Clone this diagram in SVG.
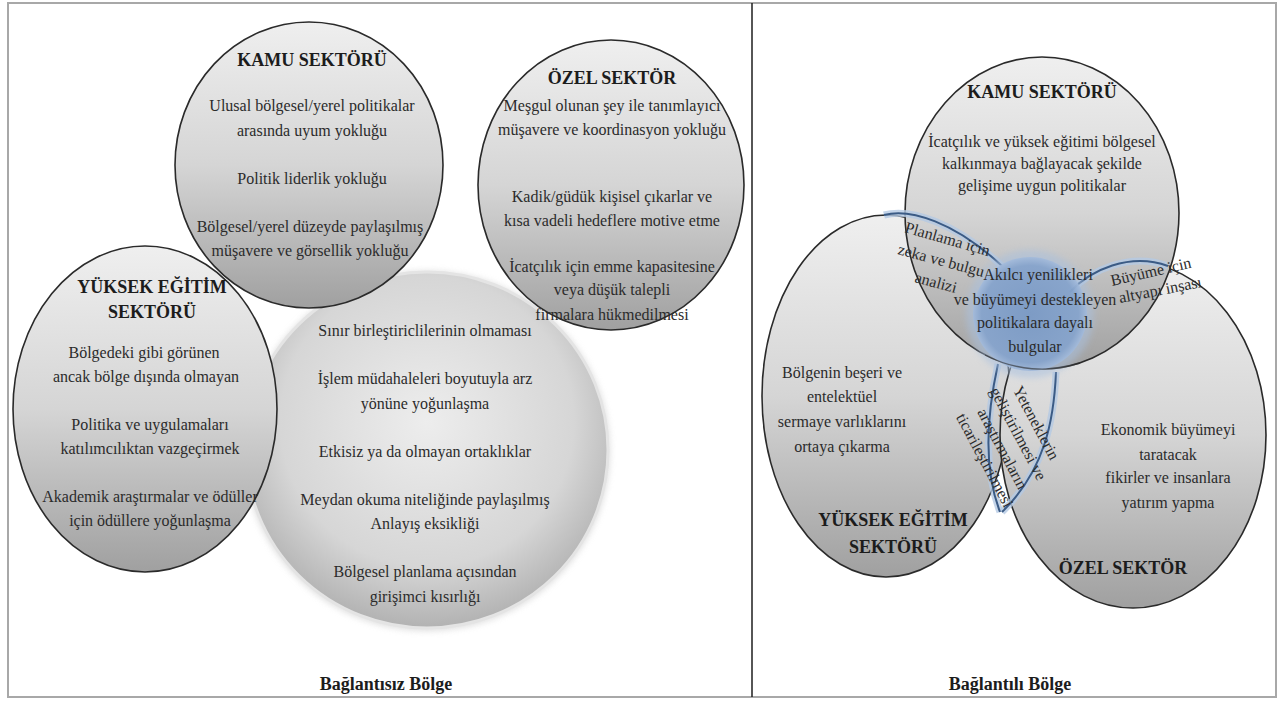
<svg xmlns="http://www.w3.org/2000/svg" width="1283" height="701" viewBox="0 0 1283 701" font-family="Liberation Serif, DejaVu Serif, serif">
<defs>
  <linearGradient id="gEll" x1="0" y1="0" x2="0" y2="1">
    <stop offset="0" stop-color="#efefef"/>
    <stop offset="0.5" stop-color="#d5d5d5"/>
    <stop offset="1" stop-color="#a0a0a0"/>
  </linearGradient>
  <radialGradient id="gBig" cx="0.5" cy="0.42" r="0.58">
    <stop offset="0" stop-color="#ededed"/>
    <stop offset="0.7" stop-color="#d6d6d6"/>
    <stop offset="1" stop-color="#b2b2b2"/>
  </radialGradient>
  <radialGradient id="gBlue" cx="0.5" cy="0.5" r="0.5">
    <stop offset="0" stop-color="#7898c4"/>
    <stop offset="0.85" stop-color="#84a2cb"/>
    <stop offset="1" stop-color="#a2badb"/>
  </radialGradient>
  <filter id="soft" x="-20%" y="-20%" width="140%" height="140%"><feGaussianBlur stdDeviation="3"/></filter>
</defs>
<style>
  text{font-family:'Liberation Serif','DejaVu Serif',serif}
  .ell{fill:url(#gEll);stroke:#2a2a2a;stroke-width:1.6}
  .t{font-size:16px;fill:#2b2b2b;text-anchor:middle}
  .h{font-size:18px;font-weight:bold;fill:#1c1c1c;text-anchor:middle}
  .r{font-size:16px;fill:#2b2b2b}
  .rc{font-size:16px;fill:#2b2b2b;text-anchor:middle}
  .bl{fill:none;stroke:#3b5b85;stroke-width:2}
  .halo{fill:none;stroke:#b4c9e3;stroke-width:7;opacity:0.8}
</style>

<rect x="0" y="0" width="1283" height="701" fill="#ffffff"/>
<g id="frame">
  <rect x="8" y="3" width="1268" height="694" fill="none" stroke="#a8a8a8" stroke-width="2"/>
  <line x1="752" y1="3" x2="752" y2="697" stroke="#1e1e1e" stroke-width="1.5"/>
</g>

<!-- LEFT PANEL -->
<g id="left-center-circle">
  <ellipse cx="427" cy="451" rx="183" ry="180" fill="#d0d0d0" filter="url(#soft)" opacity="0.7"/>
  <ellipse cx="427" cy="450" rx="181" ry="178" fill="url(#gBig)" stroke="#e4e4e4" stroke-width="3"/>
  <text class="t" x="425" y="336">Sınır birleştiriclilerinin olmaması</text>
  <text class="t" x="425" y="384">İşlem müdahaleleri boyutuyla arz</text>
  <text class="t" x="425" y="409">yönüne yoğunlaşma</text>
  <text class="t" x="425" y="457">Etkisiz ya da olmayan ortaklıklar</text>
  <text class="t" x="425" y="505">Meydan okuma niteliğinde paylaşılmış</text>
  <text class="t" x="425" y="529">Anlayış eksikliği</text>
  <text class="t" x="425" y="577">Bölgesel planlama açısından</text>
  <text class="t" x="425" y="602">girişimci kısırlığı</text>
</g>

<g id="left-yuksek">
  <ellipse class="ell" cx="145" cy="409" rx="132" ry="163"/>
  <text class="h" x="152" y="293">YÜKSEK EĞİTİM</text>
  <text class="h" x="152" y="318">SEKTÖRÜ</text>
  <text class="t" x="144" y="358">Bölgedeki gibi görünen</text>
  <text class="t" x="146" y="382">ancak bölge dışında olmayan</text>
  <text class="t" x="150" y="430">Politika ve uygulamaları</text>
  <text class="t" x="150" y="454">katılımcılıktan vazgeçirmek</text>
  <text class="t" x="150" y="502">Akademik araştırmalar ve ödüller</text>
  <text class="t" x="150" y="526">için ödüllere yoğunlaşma</text>
</g>

<g id="left-kamu">
  <ellipse class="ell" cx="309" cy="165" rx="134" ry="143"/>
  <text class="h" x="312" y="66">KAMU SEKTÖRÜ</text>
  <text class="t" x="312" y="111">Ulusal bölgesel/yerel politikalar</text>
  <text class="t" x="312" y="136">arasında uyum yokluğu</text>
  <text class="t" x="312" y="184">Politik liderlik yokluğu</text>
  <text class="t" x="310" y="232">Bölgesel/yerel düzeyde paylaşılmış</text>
  <text class="t" x="310" y="256">müşavere ve görsellik yokluğu</text>
</g>

<g id="left-ozel">
  <ellipse class="ell" cx="611" cy="185" rx="133" ry="145"/>
  <text class="h" x="612" y="84">ÖZEL SEKTÖR</text>
  <text class="t" x="612" y="111">Meşgul olunan şey ile tanımlayıcı</text>
  <text class="t" x="612" y="135">müşavere ve koordinasyon yokluğu</text>
  <text class="t" x="612" y="202">Kadik/güdük kişisel çıkarlar ve</text>
  <text class="t" x="612" y="226">kısa vadeli hedeflere motive etme</text>
  <text class="t" x="612" y="272">İcatçılık için emme kapasitesine</text>
  <text class="t" x="612" y="295">veya düşük talepli</text>
  <text class="t" x="612" y="320">firmalara hükmedilmesi</text>
</g>

<g id="left-label">
  <text class="h" x="386" y="690">Bağlantısız Bölge</text>
</g>

<!-- RIGHT PANEL -->
<g id="right-yuksek">
  <ellipse class="ell" cx="886" cy="396" rx="124" ry="181"/>
  <text class="t" x="842" y="378">Bölgenin beşeri ve</text>
  <text class="t" x="842" y="402">entelektüel</text>
  <text class="t" x="842" y="427">sermaye varlıklarını</text>
  <text class="t" x="842" y="452">ortaya çıkarma</text>
  <text class="h" x="893" y="526">YÜKSEK EĞİTİM</text>
  <text class="h" x="893" y="553">SEKTÖRÜ</text>
</g>

<g id="right-ozel">
  <ellipse class="ell" cx="1133" cy="435" rx="133" ry="173"/>
  <text class="t" x="1168" y="435">Ekonomik büyümeyi</text>
  <text class="t" x="1168" y="460">taratacak</text>
  <text class="t" x="1168" y="483">fikirler ve insanlara</text>
  <text class="t" x="1168" y="508">yatırım yapma</text>
  <text class="h" x="1123" y="574">ÖZEL SEKTÖR</text>
</g>

<g id="right-kamu">
  <ellipse class="ell" cx="1042" cy="213" rx="137" ry="156"/>
  <text class="h" x="1042" y="98">KAMU SEKTÖRÜ</text>
  <text class="t" x="1042" y="147">İcatçılık ve yüksek eğitimi bölgesel</text>
  <text class="t" x="1042" y="169">kalkınmaya bağlayacak şekilde</text>
  <text class="t" x="1042" y="191">gelişime uygun politikalar</text>
</g>

<g id="connectors">
  <path class="halo" d="M884,215 C910,208 955,222 1002,266"/>
  <path class="halo" d="M1070,292 C1090,270 1130,252 1168,266"/>
  <path class="halo" d="M998,364 C990,400 980,460 1000,512"/>
  <path class="halo" d="M1056,372 C1054,420 1045,470 1002,512"/>
  <path class="bl" d="M884,215 C910,208 955,222 1002,266"/>
  <path class="bl" d="M1070,292 C1090,270 1130,252 1168,266"/>
  <path class="bl" d="M998,364 C990,400 980,460 1000,512"/>
  <path class="bl" d="M1056,372 C1054,420 1045,470 1002,512"/>
</g>

<g id="right-center">
  <circle cx="1030" cy="314" r="64" fill="#a9c0de" opacity="0.55" filter="url(#soft)"/>
  <circle cx="1030" cy="314" r="57" fill="url(#gBlue)" opacity="0.9"/>
  <path d="M985,355 A137,156 0 0 0 1080,363" fill="none" stroke="#2a2a2a" stroke-width="1.4" opacity="0.6"/>
  <text class="t" x="1038" y="280">Akılcı yenilikleri</text>
  <text class="t" x="1035" y="305">ve büyümeyi destekleyen</text>
  <text class="t" x="1035" y="328">politikalara dayalı</text>
  <text class="t" x="1035" y="352">bulgular</text>
</g>

<g id="right-labels">
  <text class="r" transform="translate(904,232) rotate(16)">Planlama için</text>
  <text class="r" transform="translate(897,254) rotate(15)">zeka ve bulgu</text>
  <text class="r" transform="translate(914,282) rotate(15)">analizi</text>
  <text class="r" transform="translate(1112,286) rotate(-13)">Büyüme için</text>
  <text class="r" transform="translate(1120,303) rotate(-11)">altyapı inşası</text>
  <g transform="translate(1036,423) rotate(62)">
    <text class="rc" x="0" y="5">Yeteneklerin</text>
    <text class="rc" x="1" y="26">geliştirilmesi ve</text>
    <text class="rc" x="7" y="47">araştırmaların</text>
    <text class="rc" x="9" y="68">ticarileştirilmesi</text>
  </g>
</g>

<g id="right-label">
  <text class="h" x="1010" y="690">Bağlantılı Bölge</text>
</g>
</svg>
